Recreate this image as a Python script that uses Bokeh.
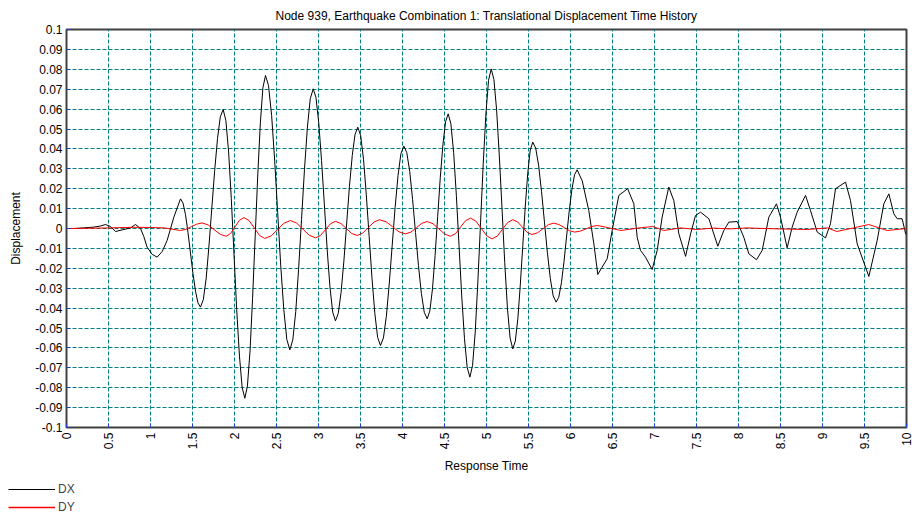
import math
from bokeh.plotting import figure
from bokeh.layouts import column
from bokeh.models import Range1d, FixedTicker, Legend, LegendItem
from bokeh.embed import file_html
from bokeh.resources import INLINE

TITLE = "Node 939, Earthquake Combination 1: Translational Displacement Time History"

x_ticks = [0, 0.5, 1, 1.5, 2, 2.5, 3, 3.5, 4, 4.5, 5, 5.5, 6, 6.5, 7, 7.5, 8, 8.5, 9, 9.5, 10]
x_tick_labels = ["0", "0.5", "1", "1.5", "2", "2.5", "3", "3.5", "4", "4.5", "5",
                 "5.5", "6", "6.5", "7", "7.5", "8", "8.5", "9", "9.5", "10"]
y_ticks = [-0.1, -0.09, -0.08, -0.07, -0.06, -0.05, -0.04, -0.03, -0.02, -0.01, 0,
           0.01, 0.02, 0.03, 0.04, 0.05, 0.06, 0.07, 0.08, 0.09, 0.1]
y_tick_labels = ["-0.1", "-0.09", "-0.08", "-0.07", "-0.06", "-0.05", "-0.04", "-0.03", "-0.02", "-0.01", "0",
                 "0.01", "0.02", "0.03", "0.04", "0.05", "0.06", "0.07", "0.08", "0.09", "0.1"]

# DX series: time values and displacement values (rows match)
dx_t = [0.00, 0.10, 0.20, 0.325, 0.40, 0.464, 0.524, 0.583, 0.663, 0.762,
        0.821, 0.881, 0.92, 0.96, 1.02, 1.079, 1.14, 1.198, 1.278,
        1.357, 1.387, 1.417, 1.446, 1.476, 1.506, 1.536, 1.565,
        1.595, 1.629, 1.663, 1.696, 1.730, 1.764, 1.798, 1.831,
        1.865, 1.897, 1.930, 1.962, 1.994, 2.026, 2.059, 2.091,
        2.123, 2.154, 2.185, 2.215, 2.246, 2.277, 2.308, 2.338,
        2.369, 2.405, 2.442, 2.478, 2.514, 2.550, 2.587, 2.623,
        2.659, 2.694, 2.729, 2.763, 2.798, 2.833, 2.868, 2.902,
        2.937, 2.970, 3.003, 3.036, 3.070, 3.103, 3.136, 3.169,
        3.202, 3.235, 3.269, 3.302, 3.335, 3.368, 3.402, 3.435,
        3.468, 3.502, 3.536, 3.569, 3.603, 3.637, 3.671, 3.704,
        3.738, 3.773, 3.808, 3.842, 3.877, 3.912, 3.947, 3.981,
        4.016, 4.051, 4.086, 4.120, 4.155, 4.190, 4.225, 4.259,
        4.294, 4.325, 4.357, 4.388, 4.419, 4.450, 4.482, 4.513,
        4.544, 4.576, 4.609, 4.641, 4.673, 4.705, 4.738, 4.770,
        4.802, 4.834, 4.866, 4.897, 4.929, 4.961, 4.993, 5.024,
        5.056, 5.088, 5.120, 5.152, 5.185, 5.217, 5.249, 5.281,
        5.313, 5.343, 5.373, 5.402, 5.432, 5.462, 5.492, 5.521,
        5.551, 5.586, 5.621, 5.655, 5.690, 5.725, 5.760, 5.794,
        5.829, 5.860, 5.892, 5.923, 5.954, 5.985, 6.017, 6.048,
        6.079, 6.139, 6.218, 6.278, 6.325, 6.377, 6.437, 6.496, 6.575, 6.68,
        6.754, 6.794, 6.833, 6.893, 6.972, 7.032, 7.091, 7.17, 7.23, 7.29,
        7.37, 7.43, 7.488, 7.548, 7.647, 7.754, 7.825, 7.885, 7.985, 8.063,
        8.123, 8.214, 8.282, 8.361, 8.452, 8.50, 8.579, 8.639, 8.698, 8.798,
        8.857, 8.937, 9.036, 9.095, 9.155, 9.274, 9.333, 9.413, 9.552, 9.651,
        9.73, 9.79, 9.849, 9.89, 9.948, 9.99, 10.0]
dx_v = [0.0000, 0.0000, 0.0003, 0.0007, 0.0012, 0.0020, 0.0010, -0.0015, -0.0007, 0.0003,
        0.0020, 0.0000, -0.0040, -0.0094, -0.0130, -0.0144, -0.0115, -0.0060, 0.0057,
        0.0149, 0.0128, 0.0069, -0.0019, -0.0123, -0.0227, -0.0315, -0.0374,
        -0.0395, -0.0357, -0.0249, -0.0088, 0.0102, 0.0292, 0.0453, 0.0561,
        0.0598, 0.0543, 0.0385, 0.0150, -0.0128, -0.0406, -0.0641, -0.0799,
        -0.0853, -0.0791, -0.0615, -0.0353, -0.0042, 0.0269, 0.0531, 0.0707,
        0.0769, 0.0718, 0.0568, 0.0344, 0.0080, -0.0184, -0.0408, -0.0558,
        -0.0610, -0.0560, -0.0418, -0.0205, 0.0046, 0.0297, 0.0510, 0.0652,
        0.0702, 0.0658, 0.0531, 0.0342, 0.0119, -0.0104, -0.0293, -0.0420,
        -0.0464, -0.0427, -0.0321, -0.0164, 0.0023, 0.0210, 0.0367, 0.0473,
        0.0509, 0.0467, 0.0348, 0.0170, -0.0040, -0.0250, -0.0428, -0.0547,
        -0.0588, -0.0550, -0.0441, -0.0279, -0.0087, 0.0105, 0.0267, 0.0376,
        0.0414, 0.0381, 0.0287, 0.0146, -0.0020, -0.0186, -0.0327, -0.0421,
        -0.0454, -0.0415, -0.0303, -0.0136, 0.0061, 0.0258, 0.0425, 0.0537,
        0.0576, 0.0526, 0.0382, 0.0167, -0.0086, -0.0339, -0.0554, -0.0698,
        -0.0747, -0.0688, -0.0520, -0.0269, 0.0028, 0.0325, 0.0576, 0.0744,
        0.0802, 0.0749, 0.0597, 0.0369, 0.0099, -0.0171, -0.0399, -0.0551,
        -0.0605, -0.0566, -0.0454, -0.0285, -0.0086, 0.0113, 0.0282, 0.0394,
        0.0434, 0.0403, 0.0316, 0.0186, 0.0032, -0.0122, -0.0252, -0.0339,
        -0.0370, -0.0346, -0.0273, -0.0165, -0.0038, 0.0089, 0.0197, 0.0270,
        0.0295, 0.0240, 0.0090, -0.0077, -0.0231, -0.0194, -0.0152, -0.0010, 0.0166, 0.0200,
        0.0124, -0.0044, -0.0110, -0.0144, -0.0206, -0.0110, 0.0057, 0.0208, 0.0140, -0.0027,
        -0.0140, -0.0027, 0.0065, 0.0082, 0.0049, -0.0089, -0.0010, 0.0032, 0.0035, -0.0044,
        -0.0127, -0.0157, -0.0110, 0.0057, 0.0124, 0.0057, -0.0097, 0.0007, 0.0082, 0.0166,
        0.0090, -0.0018, -0.0047, 0.0024, 0.0200, 0.0233, 0.0141, -0.0077, -0.0241, -0.0060,
        0.0124, 0.0174, 0.0074, 0.0049, 0.0049, -0.0027, -0.0030]

# DY series: time values and displacement values (rows match)
dy_t = [0.00, 0.40, 0.80, 1.00, 1.16, 1.357,
        1.422, 1.486, 1.551, 1.615,
        1.686, 1.758, 1.829, 1.900,
        1.953, 2.006, 2.058, 2.111,
        2.173, 2.236, 2.298, 2.360,
        2.437, 2.514, 2.590, 2.667,
        2.741, 2.816, 2.890, 2.964,
        3.024, 3.083, 3.143, 3.202,
        3.267, 3.331, 3.396, 3.460,
        3.527, 3.593, 3.660, 3.726,
        3.804, 3.881, 3.959, 4.036,
        4.101, 4.165, 4.230, 4.294,
        4.363, 4.433, 4.502, 4.571,
        4.631, 4.691, 4.750, 4.810,
        4.874, 4.939, 5.003, 5.067,
        5.129, 5.190, 5.252, 5.313,
        5.370, 5.427, 5.483, 5.540,
        5.605, 5.670, 5.735, 5.800,
        5.862, 5.925, 5.987, 6.050,
        6.118, 6.185, 6.253, 6.320,
        6.45, 6.60, 6.80, 6.98, 7.11, 7.31, 7.50, 7.70, 7.90, 8.10,
        8.30, 8.58, 8.82, 9.06, 9.17, 9.37, 9.55, 9.77, 10.0]
dy_v = [0.0000, 0.0002, 0.0006, 0.0005, 0.0003, -0.0010,
        -0.0004, 0.0009, 0.0022, 0.0028,
        0.0018, -0.0006, -0.0029, -0.0039,
        -0.0025, 0.0008, 0.0041, 0.0055,
        0.0040, 0.0003, -0.0035, -0.0050,
        -0.0037, -0.0005, 0.0027, 0.0040,
        0.0027, -0.0004, -0.0034, -0.0047,
        -0.0035, -0.0006, 0.0024, 0.0036,
        0.0025, 0.0000, -0.0025, -0.0035,
        -0.0023, 0.0005, 0.0032, 0.0044,
        0.0034, 0.0009, -0.0017, -0.0027,
        -0.0018, 0.0004, 0.0026, 0.0035,
        0.0024, -0.0002, -0.0028, -0.0039,
        -0.0026, 0.0007, 0.0039, 0.0052,
        0.0037, 0.0000, -0.0037, -0.0052,
        -0.0038, -0.0004, 0.0030, 0.0044,
        0.0033, 0.0007, -0.0019, -0.0030,
        -0.0022, -0.0002, 0.0019, 0.0027,
        0.0020, 0.0005, -0.0011, -0.0018,
        -0.0013, -0.0002, 0.0010, 0.0015,
        0.0004, -0.0010, 0.0002, 0.0010, -0.0010, 0.0003, -0.0005, 0.0002, -0.0002, 0.0003,
        0.0000, -0.0003, -0.0005, 0.0003, -0.0015, 0.0003, 0.0020, -0.0010, 0.0000]

series_names = ["DX", "DY"]
series_colors = ["black", "#ff0000"]

FONT = "Liberation Sans"

p = figure(width=917, height=476, output_backend="svg", toolbar_location=None,
           x_range=Range1d(0, 10), y_range=Range1d(-0.1, 0.1),
           min_border_left=66, min_border_right=11, min_border_top=29, min_border_bottom=49,
           title=TITLE)
p.frame_align = False
p.title.align = "center"
p.title.text_font = FONT
p.title.text_font_size = "12px"
p.title.text_font_style = "normal"
p.title.text_color = "#000000"
p.title.standoff = 13

p.background_fill_color = "white"
p.border_fill_color = "white"
p.outline_line_color = "#404040"
p.outline_line_width = 2

for ax, ticks, labels in ((p.xaxis[0], x_ticks, x_tick_labels), (p.yaxis[0], y_ticks, y_tick_labels)):
    ax.ticker = FixedTicker(ticks=ticks)
    ax.major_label_overrides = dict(zip(ticks, labels))
    ax.minor_tick_line_color = None
    ax.major_tick_in = 4
    ax.major_tick_out = 0
    ax.major_tick_line_color = "#1f3fcf"
    ax.axis_line_color = None
    ax.major_label_text_font = FONT
    ax.major_label_text_font_size = "12px"
    ax.major_label_text_color = "#000000"
    ax.axis_label_text_font = FONT
    ax.axis_label_text_font_size = "12px"
    ax.axis_label_text_font_style = "normal"
    ax.axis_label_text_color = "#000000"

p.xaxis.axis_label = "Response Time"
p.xaxis.major_label_orientation = math.pi / 2
p.xaxis.major_label_standoff = 5
p.xaxis.axis_label_standoff = 7
p.yaxis.axis_label = "Displacement"
p.yaxis.major_label_standoff = 4
p.yaxis.axis_label_standoff = 9

p.grid.grid_line_color = "#008080"
p.grid.grid_line_dash = "4 2"
p.grid.grid_line_width = 1

p.line(dx_t, dx_v, line_color=series_colors[0], line_width=1)
p.line(dy_t, dy_v, line_color=series_colors[1], line_width=1)

# Legend strip below the chart (same series; its ranges keep the lines out of view)
leg = figure(width=917, height=38, output_backend="svg", toolbar_location=None,
             x_range=Range1d(0, 10), y_range=Range1d(1, 2),
             min_border=0, x_axis_location=None, y_axis_location=None)
leg.frame_align = False
leg.outline_line_color = None
leg.grid.visible = False
leg.background_fill_color = "white"
leg.border_fill_color = "white"
l1 = leg.line(dx_t, dx_v, line_color=series_colors[0], line_width=1)
l2 = leg.line(dy_t, dy_v, line_color=series_colors[1], line_width=1.5)
legend = Legend(items=[LegendItem(label=series_names[0], renderers=[l1]),
                       LegendItem(label=series_names[1], renderers=[l2])],
                location=(8, 0), orientation="vertical",
                padding=0, margin=0, spacing=4,
                glyph_width=47, glyph_height=14, label_height=14, label_standoff=3,
                label_text_font=FONT, label_text_font_size="12px",
                border_line_color=None, background_fill_alpha=0)
leg.add_layout(legend)

page = column(p, leg, spacing=0)
open("out.html", "w").write(file_html(page, INLINE))
